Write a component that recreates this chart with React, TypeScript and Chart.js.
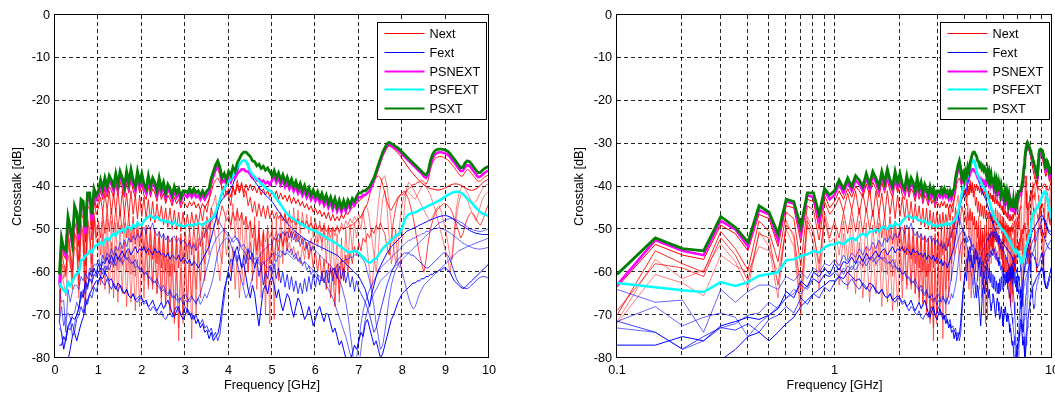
import React, { useEffect, useRef } from 'react';
import { Chart, registerables } from 'chart.js';

Chart.register(...registerables);

const FONT_FAMILY = "'Liberation Sans', Arial, Helvetica, sans-serif";
const FONT_SIZE = 12.7;

// Sweep frequencies (GHz)
const FREQ_GHZ = [
  0.1, 0.15, 0.2, 0.25, 0.3, 0.35, 0.4, 0.45, 0.5, 0.55, 0.6, 0.65, 0.7, 0.75, 0.8, 0.85, 0.9, 0.95,
  1, 1.05, 1.1, 1.15, 1.2, 1.25, 1.3, 1.35, 1.4, 1.45, 1.5, 1.55, 1.6, 1.65, 1.7, 1.75, 1.8, 1.85, 1.9, 1.95,
  2, 2.05, 2.1, 2.15, 2.2, 2.25, 2.3, 2.35, 2.4, 2.45, 2.5, 2.55, 2.6, 2.65, 2.7, 2.75, 2.8, 2.85, 2.9, 2.95,
  3, 3.05, 3.1, 3.15, 3.2, 3.25, 3.3, 3.35, 3.4, 3.45, 3.5, 3.55, 3.6, 3.65, 3.7, 3.75, 3.8, 3.85, 3.9, 3.95,
  4, 4.05, 4.1, 4.15, 4.2, 4.25, 4.3, 4.35, 4.4, 4.45, 4.5, 4.55, 4.6, 4.65, 4.7, 4.75, 4.8, 4.85, 4.9, 4.95,
  5, 5.05, 5.1, 5.15, 5.2, 5.25, 5.3, 5.35, 5.4, 5.45, 5.5, 5.55, 5.6, 5.65, 5.7, 5.75, 5.8, 5.85, 5.9, 5.95,
  6, 6.05, 6.1, 6.15, 6.2, 6.25, 6.3, 6.35, 6.4, 6.45, 6.5, 6.55, 6.6, 6.65, 6.7, 6.75, 6.8, 6.85, 6.9, 6.95,
  7, 7.05, 7.1, 7.15, 7.2, 7.25, 7.3, 7.35, 7.4, 7.45, 7.5, 7.55, 7.6, 7.65, 7.7, 7.75, 7.8, 7.85, 7.9, 7.95,
  8, 8.05, 8.1, 8.15, 8.2, 8.25, 8.3, 8.35, 8.4, 8.45, 8.5, 8.55, 8.6, 8.65, 8.7, 8.75, 8.8, 8.85, 8.9, 8.95,
  9, 9.05, 9.1, 9.15, 9.2, 9.25, 9.3, 9.35, 9.4, 9.45, 9.5, 9.55, 9.6, 9.65, 9.7, 9.75, 9.8, 9.85, 9.9, 9.95,
  10,
];

// Power-sum crosstalk (dB)
const PSXT = [
  -60.5, -52, -54.5, -55, -47, -49.5, -53, -44.5, -46, -51, -43, -43.5, -49.5, -41.5, -41.5, -46.5, -40.5, -42,
  -41, -38.5, -40.5, -38, -40, -37.5, -38.5, -40, -37, -39.5, -36.5, -38, -40, -36.5, -39, -36, -38.5, -40, -36.5, -39,
  -37, -39.5, -40.5, -37.5, -40, -38, -39, -41, -38, -40.5, -39, -41.5, -39.5, -40.5, -42, -40, -41.5, -40.5, -42.5, -41,
  -41, -41.5, -40.5, -41.5, -40.5, -41.5, -41, -42, -41, -42, -41, -40.5, -38, -36.5, -35, -34, -35.5, -38, -37, -38.5,
  -36.5, -37.5, -35.5, -36.5, -34.5, -33.5, -32.5, -32, -32, -32.5, -33, -34, -34.2, -35.2, -34.8, -35.8, -35.3, -36.2, -35.7, -36.6,
  -37.5, -36.3, -38, -36.8, -38.5, -37.3, -39, -37.8, -39.5, -38.3, -40, -38.8, -40.5, -39.3, -41, -39.8, -41.5, -40.3, -42, -40.8,
  -42.3, -41.2, -42.8, -41.6, -43.3, -42, -43.8, -42.5, -44.3, -42.8, -44.8, -43.2, -45, -43.3, -44.8, -43.2, -44.3, -42.8, -43.5, -42.3,
  -41.5, -41.5, -41, -41, -40.5, -40, -39, -38, -36.5, -35, -33.5, -32, -31, -30, -29.7, -30, -30.3, -30.7, -31, -31.5,
  -32, -32.5, -33, -33.5, -34, -34.5, -35, -35.5, -36, -36.5, -37, -37.3, -36.5, -34, -32.5, -31.7, -31.4, -31.3, -31.3, -31.4,
  -31.5, -31.8, -32.3, -33, -33.6, -34.3, -35, -35.6, -35.5, -34.5, -34, -34.2, -34.8, -35.5, -36.2, -36.8, -36.7, -36.2, -35.8, -35.5,
  -35.3,
];

const PSNEXT = [
  -63, -52.5, -55, -56, -48, -50, -54, -45.5, -46.5, -52.5, -43.5, -44, -51, -42, -42.5, -48, -41, -43,
  -42, -39.5, -41.5, -39, -41, -38.5, -39.5, -41, -38, -40.5, -37.5, -39, -41, -37.5, -40, -37, -39.5, -41, -37.5, -40,
  -38, -40.5, -41.5, -38.5, -41, -39, -40, -42, -39, -41.5, -40, -42.5, -40.5, -41.5, -43, -41, -42.5, -41.5, -43.5, -42,
  -42, -42.5, -41.5, -42.5, -41.5, -42.5, -42, -43, -42, -43, -42, -41.5, -39, -37.5, -36, -35, -36.5, -39, -38.5, -39.5,
  -38, -39, -37.5, -38, -37, -36.5, -36, -36, -36.5, -36.5, -37.2, -38, -37.8, -38.6, -38.2, -39, -38.6, -39.3, -38.9, -39.6,
  -38.6, -37.5, -39.1, -38, -39.6, -38.5, -40.1, -39, -40.6, -39.5, -41.1, -40, -41.6, -40.5, -42.1, -41, -42.6, -41.5, -43.1, -42,
  -43.4, -42.3, -43.9, -42.7, -44.4, -43.1, -44.9, -43.6, -45.4, -43.9, -45.8, -44.2, -46, -44.3, -45.8, -44.2, -45.2, -43.8, -44.4, -43.2,
  -42.5, -42.5, -42, -42, -41.5, -41, -40, -38.5, -37, -35.5, -34, -32.5, -31.5, -30.5, -30.2, -30.5, -30.8, -31.2, -31.5, -32,
  -32.5, -33, -33.5, -34, -34.5, -35, -35.5, -36, -36.5, -37, -37.7, -38, -37.3, -35, -33.5, -32.5, -32.2, -32, -32, -32.2,
  -32.3, -32.6, -33.1, -33.8, -34.4, -35.1, -35.8, -36.4, -36.3, -35.5, -35, -35.2, -35.8, -36.5, -37.2, -37.8, -37.7, -37.2, -36.8, -36.5,
  -36.3,
];

const PSFEXT = [
  -62.5, -63.5, -64.2, -64.6, -62.3, -63.2, -62.3, -60.8, -60.4, -60, -57.2, -57, -56.2, -55.8, -55, -55.4, -54.2, -53.6,
  -53.5, -53, -53.5, -52.5, -52, -52.5, -51.5, -51, -51.5, -50.5, -50.5, -50, -50.5, -49.5, -49.5, -50, -49, -49.5, -48.5, -49,
  -49, -48, -47.5, -47, -46.8, -47.2, -47.5, -47, -47.5, -48, -47.8, -48.3, -48, -48.5, -48.8, -48.3, -48.8, -49.2, -49, -49.3,
  -49.2, -49, -48.8, -49.2, -48.8, -49, -48.5, -48.8, -49, -48.5, -48.2, -48, -47.5, -47, -46, -44.5, -43, -41.5, -40.5, -39.5,
  -38.8, -38.3, -37.5, -36.5, -35.5, -34.8, -34.2, -33.9, -34, -35, -36.5, -37.2, -37.8, -38.3, -38.8, -39.3, -39.8, -40.3, -40.7, -41,
  -41.3, -42, -42.8, -43.5, -44.2, -45, -45.8, -46.4, -46.9, -47.3, -47.6, -48, -48.3, -48.6, -48.9, -49.2, -49.5, -49.8, -50, -50.2,
  -50.4, -50.7, -51, -51.3, -51.6, -51.9, -52.2, -52.5, -52.8, -53.1, -53.4, -53.8, -54.1, -54.5, -54.9, -55.2, -55.4, -55.2, -55, -55.2,
  -55.5, -56, -56.5, -57, -57.5, -57.8, -57.5, -57, -56.8, -56, -55.2, -54.5, -54, -53.5, -53, -52.5, -52, -51.5, -51.2, -50.8,
  -49.5, -48, -47, -46.5, -46.3, -46.2, -46, -45.8, -45.5, -45.2, -45, -44.8, -44.5, -44.3, -44, -43.8, -43.5, -43.3, -43, -42.6,
  -42.3, -42, -41.7, -41.5, -41.3, -41.2, -41.2, -41.4, -41.8, -42.3, -42.8, -43.3, -43.8, -44.4, -45, -45.5, -46, -46.3, -46.5, -46.7,
  -46.8,
];

// Individual near-end pairs (dB)
const NEXT_1 = [
  -63.5, -53.5, -56, -57, -49, -51, -55, -46.5, -47.5, -54, -44.5, -45, -53, -43, -43.5, -50, -42, -45,
  -43.5, -41, -43, -40.5, -42.5, -40, -41, -42.5, -39.5, -42, -39, -40.5, -42.5, -39, -41.5, -38.5, -41, -42.5, -39, -41.5,
  -39.5, -42, -43, -40, -42.5, -40.5, -41.5, -43.5, -40.5, -43, -41.5, -44, -42, -43, -44.5, -42.5, -44, -43, -45, -43.5,
  -44, -45, -43.5, -44.5, -43.5, -45, -44, -45.5, -44, -45, -44, -43, -40, -38, -36.5, -35.8, -37.5, -41, -40, -42,
  -40.5, -42.5, -40, -42, -39.5, -41.5, -39.5, -41.5, -39.5, -41, -39.5, -41, -40, -41.5, -40, -42, -40.5, -42, -41, -42.5,
  -41, -42.5, -41, -43, -41.5, -43, -42, -43.5, -42, -44, -42.5, -44, -43, -44.5, -43.5, -45, -44, -45.5, -44.5, -46,
  -45, -46.5, -45.5, -47, -46, -47.5, -46, -48, -46.5, -48, -47, -48, -46.5, -47.5, -46, -46.5, -45.5, -45, -44.5, -44,
  -43.5, -43, -42.5, -42, -41.5, -41, -40, -39, -37.5, -36, -34.5, -33, -32, -31, -30.5, -30.8, -31.2, -31.7, -32.2, -32.8,
  -33.5, -34.3, -35, -35.7, -36.4, -37, -37.6, -38.2, -38.7, -39.2, -39.6, -40, -40.3, -40.5, -40.6, -40.7, -40.8, -40.8, -40.7, -40.5,
  -40.3, -40, -39.7, -39.5, -39.4, -39.4, -39.5, -39.7, -40, -40.3, -40.6, -40.8, -40.9, -40.8, -40.6, -40.2, -39.7, -39.2, -38.8, -38.5,
  -38.3,
];

const NEXT_2 = [
  -70, -55, -58, -60, -50.5, -54.5, -59.5, -48, -50.5, -57.5, -46, -47.5, -58.5, -44.5, -45.5, -52.5, -43.5, -46.5,
  -45, -42.5, -46, -41.5, -45.5, -41, -46.5, -41.5, -46, -40.5, -47, -41, -46.5, -41.5, -47, -41, -46.5, -42, -47.5, -42,
  -47, -42.5, -47.5, -43, -48, -43.5, -48.5, -44, -48, -44.5, -49, -45, -49.5, -45, -50, -45.5, -50, -46, -50.5, -46,
  -50, -46.5, -50.5, -46, -49.5, -46.5, -49, -45.5, -48, -44.5, -46, -43, -41.5, -39.5, -38.5, -38, -39, -40, -42.5, -41,
  -42, -44.5, -40, -42, -38.5, -41, -39, -42.5, -41, -44.5, -42.5, -46, -43.5, -47, -44, -47, -44.5, -47.5, -44.5, -47.5,
  -45.5, -47.5, -46, -47.5, -46.5, -48, -46.5, -48.5, -47, -48.5, -47.5, -49, -47.5, -49, -48, -49.5, -48, -49.5, -48.5, -50,
  -48.5, -50, -49, -50.5, -49, -50.5, -49.5, -50.5, -49.5, -50.5, -49.5, -50.5, -49.5, -50, -49.5, -49.5, -49, -49, -48.5, -48,
  -47.5, -47, -46, -45, -44, -42, -40, -38.5, -38, -37.5, -38, -39.5, -41.5, -43.5, -45, -45.5, -44.5, -43.5, -42.5, -42,
  -42, -41.5, -41, -40.5, -40, -39.5, -39.5, -39, -39, -38.5, -39, -39.5, -38.5, -36, -34.5, -33.5, -33.2, -33, -33, -33.2,
  -33.5, -33.8, -34.3, -35, -35.6, -36.3, -37, -37.6, -37.5, -36.6, -36, -36.3, -37, -37.6, -38.3, -38.8, -38.7, -38.2, -37.8, -37.5,
  -37.3,
];

const NEXT_3 = [
  -71.5, -57, -61.5, -59.5, -53.5, -57.5, -64, -50.5, -54, -66, -48, -52, -68, -47, -50, -60, -46, -50,
  -49, -56, -48, -57, -47.5, -58, -48, -59, -48.5, -59.5, -49, -58.5, -48.5, -60, -49, -60.5, -49.5, -61, -50, -60,
  -50, -62, -50.5, -63, -51, -64, -51.5, -65, -52, -66, -52, -67, -51.5, -69, -52, -72, -53, -76, -52, -72,
  -53, -70, -52.5, -75.5, -53, -70, -52, -66, -50.5, -62, -49, -56, -45, -44, -42, -48, -55, -58, -50, -46,
  -45, -50, -44, -52, -45, -55, -46, -58, -47, -60, -48, -62, -47, -64, -48, -66, -50, -70, -49, -72,
  -48, -71, -47, -62, -46, -58, -46, -55, -45.5, -53, -45, -52, -45.5, -51, -46, -50, -46.5, -51, -47, -52,
  -47.5, -53, -48, -55, -48.5, -58, -49, -60, -50, -63, -51, -67, -52, -62, -50, -58, -49, -55, -48.5, -52,
  -48, -50, -46, -44.5, -45, -48, -52, -56, -60, -55, -48, -43, -41, -45, -52, -58, -55, -50, -58, -59,
  -52, -45, -40.5, -39, -39.5, -40.5, -41.5, -42.5, -43.5, -44.5, -45.5, -46.5, -47.5, -48, -47, -46, -45, -44.5, -46, -48,
  -50, -53, -56, -57, -52, -47, -44, -42, -41.5, -42, -43, -44.5, -46, -47, -48, -46.5, -44.5, -43, -42, -41.5,
  -41,
];

const NEXT_4 = [
  -72, -60.5, -62.5, -65.5, -56, -58.5, -60, -54, -55, -60, -50, -54, -70, -49, -53, -64, -48, -53,
  -52, -63, -51, -64, -52, -65, -53, -66, -54, -67, -54, -65, -53, -68, -55, -67, -56, -69, -57, -68,
  -55, -66, -54, -64, -53.5, -63, -54, -65, -55, -67, -56, -68, -57, -70, -58, -71, -60, -73, -59, -70,
  -58, -68, -57, -66, -56, -64, -55, -62, -53, -58, -50, -54, -47, -49, -52, -58, -62, -55, -50, -56,
  -52, -60, -54, -64, -56, -66, -58, -63, -55, -60, -53, -58, -52, -56, -51, -54, -50.5, -53, -50, -52,
  -50, -52.5, -50.5, -53, -51, -54, -52, -55, -53, -56, -54, -57, -55, -58, -54, -57, -53, -56, -52, -55,
  -51.5, -54, -51, -53, -50.5, -52.5, -50, -52, -49.5, -51.5, -49, -51, -48.5, -50, -48, -49, -47.5, -48.5, -47, -48,
  -46.5, -47.5, -46, -50, -55, -60, -64, -58, -50, -44, -40, -38, -37.5, -40, -44, -49, -54, -58, -55, -48,
  -44, -42, -41, -41.5, -42, -42.5, -43, -42, -41, -40, -39.5, -40, -41, -42, -43.5, -45, -47, -49, -51, -53,
  -55, -57, -60, -56, -50, -45, -42, -40.5, -40, -40.5, -41.5, -42.5, -43.5, -44, -43.5, -42.5, -41.5, -40.5, -40, -39.5,
  -39.5,
];

const NEXT_5 = [
  -69, -58, -59, -61, -52, -56, -62, -51, -52, -63, -49, -51, -64, -48, -51, -58, -47, -52,
  -48, -52, -46, -51, -45.5, -50.5, -45, -51, -45, -50, -45.5, -51, -46, -52, -46.5, -53, -47, -53.5, -48, -54,
  -48.5, -55, -49, -56, -49.5, -57, -50, -58, -50.5, -59, -51, -60, -51.5, -61, -52, -60, -51.5, -59, -51, -58,
  -50.5, -57, -50, -56, -49.5, -55, -49, -54, -48.5, -52, -47, -50, -45, -47, -46, -49, -47, -44.5, -46, -48,
  -47, -49, -46, -48, -45.5, -48, -46, -49, -47, -50, -48, -52, -49, -55, -50, -60, -51, -64, -52, -58,
  -53, -57, -52, -55, -51, -54, -50.5, -53, -50, -52, -50.5, -53, -51, -54, -52, -55, -53, -57, -54, -59,
  -55, -60, -56, -62, -57, -64, -58, -66, -59, -68, -58, -65, -57, -62, -56, -60, -55, -58, -54, -56,
  -53, -55, -52, -53, -51, -52, -50, -51, -49, -50, -48.5, -50, -51, -54, -56, -52, -48, -45, -43, -42,
  -41.5, -41, -42, -43, -45, -47, -50, -53, -56, -58, -60, -57, -53, -50, -48, -46.5, -45.5, -45, -44.5, -44,
  -44, -44.5, -45, -46, -47.5, -49, -50.5, -52, -51, -49, -47.5, -46.5, -46, -46.5, -47.5, -48.5, -49, -48, -46.5, -45,
  -44,
];

// Individual far-end pairs (dB)
const FEXT_1 = [
  -77, -77, -75, -76, -72.5, -71.5, -70.5, -71, -70, -68.5, -64.5, -66, -62, -63.5, -60, -61, -59, -60.5,
  -58, -59.5, -57.5, -58, -56.5, -58, -56, -57.5, -55.5, -57, -56, -55, -56.5, -55, -54.5, -56, -55, -54, -55.5, -54.5,
  -55, -54, -55.5, -54.5, -55, -56, -54.5, -55.5, -55, -56, -55.5, -56.5, -55.5, -57, -56, -56.5, -57, -56, -57.5, -56.5,
  -57, -58, -57, -58.5, -57.5, -58, -59, -58, -57, -56, -55, -54, -52, -50, -48, -45.5, -44, -43, -42.5, -42,
  -41.5, -40.5, -39.5, -38, -36.5, -35, -34.2, -33.8, -34.3, -35.5, -36.8, -38, -38.8, -39.5, -40.2, -40.8, -41.4, -42, -42.5, -43,
  -43.5, -44.2, -45, -45.8, -46.5, -47.2, -48, -48.6, -49.2, -49.7, -50.2, -50.6, -51, -51.4, -51.8, -52.2, -52.5, -52.8, -53, -53.3,
  -53.5, -53.8, -54, -54.3, -54.5, -54.8, -55, -55.3, -55.5, -55.8, -56, -56.5, -57, -57.5, -58, -58.5, -59, -59.5, -60, -60.5,
  -61, -62, -63, -64, -66, -68, -65, -63, -61, -59.5, -58.5, -57.5, -56.5, -55.5, -54.8, -54, -53.5, -53, -52.5, -52,
  -51.5, -51, -50.5, -50.2, -50, -49.8, -49.5, -49.3, -49, -48.8, -48.5, -48.3, -48, -47.8, -47.6, -47.4, -47.2, -47, -46.9, -46.8,
  -46.8, -46.9, -47.1, -47.4, -47.8, -48.2, -48.6, -49, -49.3, -49.6, -49.9, -50.2, -50.5, -50.7, -50.9, -51, -51.1, -51.2, -51.2, -51.2,
  -51.2,
];

const FEXT_2 = [
  -64, -67, -66.5, -74, -64, -67, -64.5, -63, -63, -64, -61, -62, -60, -61.5, -59, -60, -58, -58.5,
  -57, -58.5, -56, -57.5, -55.5, -56.5, -54.5, -56, -54, -55, -53, -54.5, -52.5, -54, -52, -53, -51.5, -52.5, -51, -52,
  -50.5, -49.5, -51, -49, -50, -48.5, -50.5, -51.5, -50.5, -52, -51, -52.5, -51.5, -53, -52, -51.5, -53, -52, -53.5, -52.5,
  -53, -54, -53, -54.5, -53.5, -55, -54, -53, -52, -51, -50, -49, -48, -47.5, -47, -47.5, -48.5, -49.5, -50.5, -51,
  -52, -53.5, -55, -56.5, -58, -60, -62, -64, -66, -65, -63, -61, -59, -57.5, -56.5, -55.5, -55, -54.5, -54, -53.5,
  -53.5, -52, -52.5, -51, -52, -50.5, -51.5, -50.5, -52, -50.5, -52.5, -51, -53, -51.5, -53.5, -52, -54.5, -53, -55, -54,
  -55, -55.5, -56, -56.5, -57, -57.5, -58, -58.5, -59, -60, -61, -62, -63, -65, -67, -70, -74, -78, -82, -80,
  -76, -72, -69, -67, -65.5, -64, -63, -62, -61, -60, -59, -58.5, -58, -57.5, -57, -56.5, -56, -55.5, -55, -54.5,
  -54, -53.5, -53, -52.5, -52.5, -52, -52, -51.5, -51.5, -51, -51, -50.5, -50.5, -50, -50, -49.8, -49.8, -49.6, -49.8, -50,
  -50.2, -50.5, -50.8, -51.2, -51.6, -52, -52.4, -52.8, -53.2, -53.5, -53.8, -54, -54.2, -54.4, -54.5, -54.6, -54.6, -54.5, -54.4, -54.3,
  -54.2,
];

const FEXT_3 = [
  -71.5, -68, -72.5, -70.5, -69.5, -70.5, -75, -72, -70, -68, -66, -65, -63, -64, -61.5, -62.5, -60.5, -61,
  -60, -61, -59, -60, -58.5, -59.5, -58, -57, -58.5, -57, -56.5, -58, -57, -56.5, -57.5, -58, -57.5, -59, -58.5, -59.5,
  -59, -60.5, -60, -61.5, -61, -62, -62.5, -61.5, -63, -64, -63, -64.5, -65, -64, -65.5, -66, -65, -66.5, -66, -65.5,
  -65, -66, -67, -66, -66.5, -67.5, -66, -65, -63, -61, -59, -57, -55, -53.5, -52.5, -51.5, -51, -50.5, -50, -50.5,
  -51, -52, -53, -52.5, -52, -53, -54, -53.5, -54.5, -55.5, -55, -56, -57, -56.5, -57.5, -58, -57.5, -58.5, -59, -58.5,
  -58.5, -57, -57.5, -56, -56.5, -55, -56, -54.5, -55.5, -54.5, -56.5, -55.5, -57.5, -56.5, -58.5, -57.5, -59.5, -58.5, -60.5, -59.5,
  -61, -61.5, -62, -62, -61.5, -61, -60.5, -60, -59.5, -59, -58.5, -58, -57.5, -57.5, -57, -57, -56.5, -56.5, -56, -56,
  -56, -56.5, -57, -58, -60, -62, -65, -68, -72, -75, -78, -77, -74, -70, -66, -63, -61, -59.5, -58.5, -57.5,
  -57, -56.5, -56, -55.5, -55, -54.5, -54, -53.5, -53, -52.5, -52, -51.5, -51, -50.5, -50, -49.5, -49, -48.5, -48.3, -48,
  -47.8, -47.6, -47.5, -47.5, -47.6, -47.8, -48, -48.3, -48.6, -49, -49.4, -49.8, -50, -50.2, -50.3, -50.4, -50.5, -50.4, -50.2, -50,
  -49.8,
];

const FEXT_4 = [
  -71.4, -74, -77.9, -75, -72.9, -73.5, -72, -74, -71, -70, -68, -69.5, -66, -67.5, -65, -66, -63.5, -64.5,
  -62.5, -61, -62.5, -63, -61.5, -63, -64, -62.5, -63.5, -64.5, -63, -64, -65, -64, -65.5, -66, -65, -66.5, -67, -66,
  -66.5, -67.5, -67, -68, -69, -68, -68.5, -69.5, -70, -69, -70.5, -71, -70, -69.5, -70.5, -69, -68, -69, -70, -69.5,
  -68, -69, -70, -69.5, -71, -70, -71.5, -72, -71, -73, -72.5, -74, -73, -75, -74, -76, -74.5, -70, -66, -62,
  -59, -57, -57.5, -55, -57.5, -56, -59, -56, -58, -54.5, -57, -55.5, -59, -57, -61, -58.5, -63, -60, -61.5, -58.5,
  -60.5, -58, -61.5, -59, -62.5, -60, -63.5, -60.5, -64, -61, -64.5, -62, -65, -62.5, -65, -61.5, -64.5, -61, -64, -60.5,
  -63.5, -60.5, -63, -60, -62.5, -59.5, -62.5, -59, -62, -59, -61.5, -58.5, -61.5, -59, -62.5, -60, -63.5, -61, -64.5, -62,
  -64, -65, -66, -67, -68.5, -70, -72, -74, -73, -71, -69, -67, -65, -63, -61.5, -60, -59, -58, -57, -56.5,
  -56, -55.5, -55.5, -55.5, -56, -56, -56.5, -57, -57.5, -58, -58.5, -59, -59, -58.5, -58, -57.5, -57, -56.5, -56, -55.5,
  -55.5, -56, -57, -58.5, -60, -61.5, -62.5, -63, -63.5, -63.8, -63.8, -63.5, -63, -62.5, -62, -61.5, -61.2, -61, -61, -61.2,
  -61.5,
];

const FEXT_5 = [
  -84, -84, -84, -82, -80.5, -78, -75, -74, -76, -74, -72, -70.5, -68, -66.5, -65, -64, -63, -62,
  -62, -61, -61.5, -60, -61, -62, -61.5, -63, -64, -62.5, -63, -64.5, -65, -64, -65.5, -66, -65, -66.5, -66, -65.5,
  -66, -67, -66.5, -68, -67.5, -66.5, -68, -69, -68, -67, -68.5, -67.5, -66.5, -68, -69.5, -70.5, -69, -68, -70, -71,
  -70, -68.5, -69.5, -71, -70, -72, -71, -73, -72, -74, -73.5, -75.5, -74, -76, -75, -74.5, -72, -68, -64, -62,
  -60, -62, -57, -55, -54, -56.5, -59, -58, -61, -64, -66, -63, -65, -69, -72.5, -68, -64, -63, -65, -62,
  -61, -63, -66, -64, -67, -69, -67, -65, -66, -68.5, -70.5, -68, -66, -67, -69, -71, -70, -68, -70, -72.5,
  -71, -69, -68, -70, -71.5, -69.5, -70, -72, -74, -73, -75, -77, -76, -78, -80, -82, -81, -79, -77, -78,
  -76, -74, -75, -72, -71, -73, -75, -77, -76, -78, -80, -79, -77, -75, -73, -71, -70, -68.5, -67, -66,
  -65, -64.5, -64, -63.5, -63, -62.5, -62.5, -62, -62, -61.5, -61.5, -61, -61, -60.5, -60.5, -60, -60, -59.5, -59.5, -59,
  -59, -59.5, -60, -61, -62, -62.5, -63, -63.5, -63.8, -63.5, -63, -62.5, -62, -61.5, -61, -60.5, -60, -59.5, -59, -58.5,
  -58,
];

const FEXT_6 = [
  -73, -74, -78, -76, -73, -72, -70, -69.5, -67, -68.5, -66, -64, -65, -63, -61.5, -62.5, -60.5, -61,
  -60, -59, -60.5, -58.5, -59.5, -58, -57.5, -58.5, -57, -56.5, -57.5, -56.5, -56, -57, -56.5, -57.5, -58, -57, -58.5, -59,
  -59.5, -60.5, -60, -61, -61.5, -62.5, -62, -63, -63.5, -64.5, -64, -65, -65.5, -64.5, -66, -65.5, -66.5, -67, -66, -67.5,
  -66.5, -67, -66, -65.5, -66.5, -67, -66, -67.5, -66.5, -65, -66, -64.5, -63, -61, -58, -55.5, -54, -53, -52.5, -52,
  -52.5, -53, -52, -51.5, -52.5, -53.5, -54.5, -55, -56, -57, -56.5, -57.5, -58, -57.5, -58, -58.5, -58, -57.5, -57, -56.5,
  -56, -55.5, -56, -55.5, -55, -55.5, -56, -55.5, -56, -56.5, -57, -56.5, -57, -57.5, -58, -57.5, -58, -58.5, -59, -59.5,
  -60, -60.5, -61, -61.5, -62, -63, -64, -65, -66, -67.5, -69, -70.5, -72, -73.5, -75, -77, -79, -81, -83, -84,
  -82, -78, -74, -71, -69, -67.5, -66, -65, -64, -63, -62, -61.5, -61, -60.5, -60, -59.5, -59, -58.5, -58, -57.5,
  -60, -62, -64, -66, -67.5, -68.5, -68, -66.5, -65, -64, -63, -62.5, -62, -61.5, -61, -60.5, -60, -59.5, -59, -58.5,
  -58, -57.5, -57, -56.5, -56, -55.5, -55, -54.8, -54.5, -54.3, -54, -53.8, -53.6, -53.4, -53.2, -53, -52.8, -52.6, -52.4, -52.2,
  -52,
];

// Axis tick values
const LINEAR_X_TICKS = [0, 1, 2, 3, 4, 5, 6, 7, 8, 9, 10];
const LOG_X_TICKS = [0.1, 0.2, 0.3, 0.4, 0.5, 0.6, 0.7, 0.8, 0.9, 1, 2, 3, 4, 5, 6, 7, 8, 9, 10];
const LOG_X_LABELED = [0.1, 1, 10];
const Y_TICKS = [0, -10, -20, -30, -40, -50, -60, -70, -80];

const LEGEND_LABELS = ['Next', 'Fext', 'PSNEXT', 'PSFEXT', 'PSXT'];
const LEGEND_STYLES = [
  { color: '#ff0000', width: 1 },
  { color: '#0000ff', width: 1 },
  { color: '#ff00ff', width: 2 },
  { color: '#00ffff', width: 2 },
  { color: '#008000', width: 2 },
];

type Trace = { name: string; values: number[]; color: string; width: number; order: number };

const TRACES: Trace[] = [
  { name: 'Next', values: NEXT_3, color: 'rgba(255,0,0,0.5)', width: 1, order: 6 },
  { name: 'Next', values: NEXT_4, color: 'rgba(255,0,0,0.5)', width: 1, order: 6 },
  { name: 'Next', values: NEXT_5, color: 'rgba(255,0,0,0.75)', width: 1, order: 5 },
  { name: 'Next', values: NEXT_2, color: 'rgba(255,0,0,0.85)', width: 1, order: 5 },
  { name: 'Next', values: NEXT_1, color: '#ff0000', width: 1, order: 5 },
  { name: 'Fext', values: FEXT_2, color: 'rgba(0,0,255,0.6)', width: 1, order: 4 },
  { name: 'Fext', values: FEXT_3, color: 'rgba(0,0,255,0.6)', width: 1, order: 4 },
  { name: 'Fext', values: FEXT_6, color: 'rgba(0,0,255,0.6)', width: 1, order: 4 },
  { name: 'Fext', values: FEXT_4, color: 'rgba(0,0,255,0.75)', width: 1, order: 3 },
  { name: 'Fext', values: FEXT_5, color: '#0000ff', width: 1, order: 3 },
  { name: 'Fext', values: FEXT_1, color: '#0000ff', width: 1, order: 3 },
  { name: 'PSNEXT', values: PSNEXT, color: '#ff00ff', width: 2.5, order: 2 },
  { name: 'PSFEXT', values: PSFEXT, color: '#00ffff', width: 2.5, order: 1 },
  { name: 'PSXT', values: PSXT, color: '#008000', width: 2.8, order: 0 },
];

const font = { family: FONT_FAMILY, size: FONT_SIZE };

// Dashed grid under the traces, solid axes box and legend on top
function makeFramePlugin(logX: boolean) {
  return {
    id: 'frame',
    beforeDatasetsDraw(chart: any) {
      const { ctx, chartArea: a, scales } = chart;
      ctx.save();
      ctx.strokeStyle = 'rgba(0,0,0,0.85)';
      ctx.lineWidth = 1;
      ctx.setLineDash([4, 3]);
      const xs = (logX ? LOG_X_TICKS : LINEAR_X_TICKS).filter((v) => v !== (logX ? 0.1 : 0) && v !== 10);
      xs.forEach((v) => {
        const px = Math.round(scales.x.getPixelForValue(v)) - 0.5;
        ctx.beginPath();
        ctx.moveTo(px, a.top);
        ctx.lineTo(px, a.bottom);
        ctx.stroke();
      });
      Y_TICKS.filter((v) => v !== 0 && v !== -80).forEach((v) => {
        const py = Math.round(scales.y.getPixelForValue(v)) - 0.5;
        ctx.beginPath();
        ctx.moveTo(a.left, py);
        ctx.lineTo(a.right, py);
        ctx.stroke();
      });
      ctx.restore();
    },
    afterDatasetsDraw(chart: any) {
      const { ctx, chartArea: a } = chart;
      ctx.save();
      ctx.setLineDash([]);
      ctx.strokeStyle = '#000';
      ctx.lineWidth = 1;
      ctx.strokeRect(a.left - 0.5, a.top - 0.5, a.right - a.left, a.bottom - a.top);

      const lx = Math.round(a.right - 112) + 0.5;
      const ly = Math.round(a.top + 7) + 0.5;
      const lw = 109;
      const lh = 97;
      ctx.fillStyle = '#fff';
      ctx.fillRect(lx, ly, lw, lh);
      ctx.strokeRect(lx, ly, lw, lh);
      ctx.font = `${FONT_SIZE}px ${FONT_FAMILY}`;
      ctx.textBaseline = 'middle';
      ctx.textAlign = 'left';
      LEGEND_LABELS.forEach((label, i) => {
        const y = Math.round(ly + 10.5 + i * 18.75) + 0.5;
        const st = LEGEND_STYLES[i];
        ctx.strokeStyle = st.color;
        ctx.lineWidth = st.width;
        ctx.beginPath();
        ctx.moveTo(lx + 7, y);
        ctx.lineTo(lx + 47, y);
        ctx.stroke();
        ctx.fillStyle = '#000';
        ctx.fillText(label, lx + 52, y + 0.5);
      });
      ctx.restore();
    },
  };
}

function buildConfig(logX: boolean, padLeft: number, padRight: number): any {
  const datasets = TRACES.map((t) => ({
    label: t.name,
    data: FREQ_GHZ.map((f, i) => ({ x: f, y: t.values[i] })),
    borderColor: t.color,
    backgroundColor: t.color,
    borderWidth: t.width,
    pointRadius: 0,
    tension: 0,
    fill: false,
    order: t.order,
    clip: 0,
  }));

  return {
    type: 'line',
    data: { datasets },
    options: {
      animation: false,
      responsive: false,
      devicePixelRatio: 1,
      events: [],
      layout: { padding: { left: padLeft, right: padRight, top: 15, bottom: 0 } },
      plugins: { legend: { display: false }, tooltip: { enabled: false } },
      scales: {
        x: {
          type: logX ? 'logarithmic' : 'linear',
          min: logX ? 0.1 : 0,
          max: 10,
          grid: { display: false, drawTicks: false },
          border: { display: false },
          afterBuildTicks: (scale: any) => {
            scale.ticks = (logX ? LOG_X_TICKS : LINEAR_X_TICKS).map((v) => ({ value: v }));
          },
          afterFit: (scale: any) => {
            scale.height = 38;
            scale.paddingLeft = 0;
            scale.paddingRight = 0;
          },
          ticks: {
            autoSkip: false,
            maxRotation: 0,
            minRotation: 0,
            padding: 5,
            color: '#000',
            font,
            callback: (v: number) => (logX ? (LOG_X_LABELED.includes(v) ? String(v) : '') : String(v)),
          },
          title: {
            display: true,
            text: 'Frequency [GHz]',
            color: '#000',
            font,
            padding: { top: 0, bottom: 2.4 },
          },
        },
        y: {
          type: 'linear',
          min: -80,
          max: 0,
          grid: { display: false, drawTicks: false },
          border: { display: false },
          afterBuildTicks: (scale: any) => {
            scale.ticks = Y_TICKS.map((v) => ({ value: v }));
          },
          afterFit: (scale: any) => {
            scale.width = 55;
            scale.paddingTop = 0;
            scale.paddingBottom = 0;
          },
          ticks: {
            padding: 5,
            color: '#000',
            font,
            callback: (v: number) => String(v),
          },
          title: {
            display: true,
            text: 'Crosstalk [dB]',
            color: '#000',
            font,
            padding: { top: 9.4, bottom: 0 },
          },
        },
      },
    },
    plugins: [makeFramePlugin(logX)],
  };
}

export default function App() {
  const leftRef = useRef<HTMLCanvasElement | null>(null);
  const rightRef = useRef<HTMLCanvasElement | null>(null);

  useEffect(() => {
    const left = new Chart(leftRef.current as HTMLCanvasElement, buildConfig(false, 0, 38));
    const right = new Chart(rightRef.current as HTMLCanvasElement, buildConfig(true, 35, 3));
    return () => {
      left.destroy();
      right.destroy();
    };
  }, []);

  return (
    <div style={{ position: 'fixed', left: 0, top: 0, width: 1055, height: 396, background: '#fff' }}>
      <canvas ref={leftRef} width={527} height={396} style={{ position: 'absolute', left: 0, top: 0 }} />
      <canvas ref={rightRef} width={528} height={396} style={{ position: 'absolute', left: 527, top: 0 }} />
    </div>
  );
}
